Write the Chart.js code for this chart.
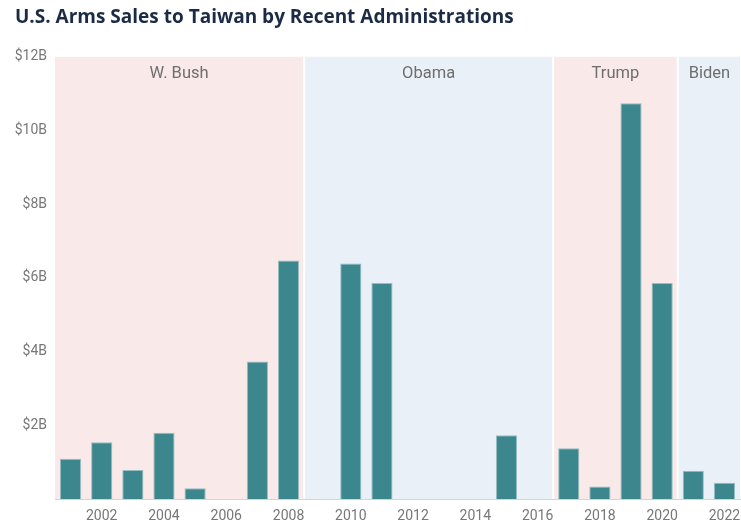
<!DOCTYPE html>
<html>
<head>
<meta charset="utf-8">
<script src="https://cdn.jsdelivr.net/npm/chart.js@4.4.1/dist/chart.umd.min.js"></script>
<style>
html,body{margin:0;padding:0;background:#fff;}
#wrap{width:741px;height:527px;position:relative;}
</style>
</head>
<body>
<div id="wrap"><canvas id="c" width="741" height="527"></canvas></div>
<script>
const years = ['2001','2002','2003','2004','2005','2006','2007','2008','2009','2010','2011','2012','2013','2014','2015','2016','2017','2018','2019','2020','2021','2022'];
const salesBillions = [1.09,1.54,0.79,1.80,0.29,0,3.73,6.47,0,6.39,5.86,0,0,0,1.73,0,1.38,0.34,10.74,5.86,0.77,0.44];
const yTicks = [0,2,4,6,8,10,12];
const adminNames = ['W. Bush','Obama','Trump','Biden'];
const adminStart = ['2001','2009','2017','2021'];
const adminEnd = ['2008','2016','2020','2022'];
const adminColors = ['#f9e9e8','#e9f0f8','#f9e9e8','#e9f0f8'];

const bandsPlugin = {
  id: 'bands',
  beforeDatasetsDraw(chart) {
    const {ctx, scales: {x, y}} = chart;
    const w = (x.right - x.left) / years.length;
    const top = y.getPixelForValue(12);
    const bottom = y.bottom;
    ctx.save();
    adminNames.forEach((name, i) => {
      const s = years.indexOf(adminStart[i]);
      const e = years.indexOf(adminEnd[i]);
      let l = x.getPixelForValue(s) - w / 2;
      let r = x.getPixelForValue(e) + w / 2;
      if (i > 0) l += 1;
      if (i < adminNames.length - 1) r -= 1;
      ctx.fillStyle = adminColors[i];
      ctx.fillRect(l, top, r - l, bottom - top);
      ctx.fillStyle = '#6e6e6e';
      ctx.font = '16.5px Roboto';
      ctx.textAlign = 'center';
      ctx.textBaseline = 'middle';
      ctx.fillText(name, (l + r) / 2, top + 17.5);
    });
    ctx.restore();
  }
};

new Chart(document.getElementById('c'), {
  type: 'bar',
  data: {
    labels: years,
    datasets: [{
      data: salesBillions,
      backgroundColor: '#3b878d',
      borderColor: 'rgba(140,185,190,0.9)',
      borderWidth: 1,
      categoryPercentage: 1,
      barPercentage: 0.68
    }]
  },
  options: {
    responsive: false,
    animation: false,
    layout: { padding: { left: 15, right: 1, top: 0, bottom: 0 } },
    plugins: {
      legend: { display: false },
      tooltip: { enabled: false },
      title: {
        display: true,
        text: 'U.S. Arms Sales to Taiwan by Recent Administrations',
        align: 'start',
        color: '#1b2b45',
        font: { family: 'Open Sans', size: 19, weight: 'bold' },
        padding: { top: 6, bottom: 28 }
      }
    },
    scales: {
      x: {
        afterFit(scale) { scale.height = 28; scale.paddingLeft = 0; scale.paddingRight = 0; },
        grid: { display: false, drawTicks: false },
        border: { display: true, color: '#d4d4d4', width: 1 },
        ticks: {
          autoSkip: false, maxRotation: 0, minRotation: 0,
          color: '#777', font: { family: 'Roboto', size: 14 }, padding: 9,
          callback: function(v, i) { return (parseInt(years[i]) % 2 === 0) ? years[i] : ''; }
        }
      },
      y: {
        min: 0, max: 12,
        afterFit(scale) { scale.width = 40; },
        afterBuildTicks(scale) { scale.ticks = yTicks.map(v => ({value: v})); },
        grid: { display: false, drawTicks: false },
        border: { display: false },
        ticks: {
          color: '#777', font: { family: 'Roboto', size: 14 }, padding: 8,
          callback: v => v === 0 ? '' : '$' + v + 'B'
        }
      }
    }
  },
  plugins: [bandsPlugin]
});
</script>
</body>
</html>
